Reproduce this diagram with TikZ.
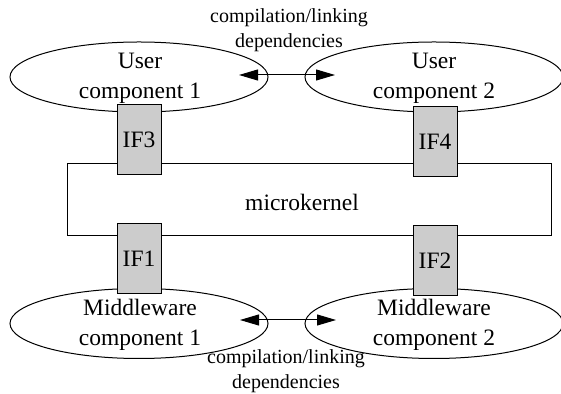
\documentclass[tikz,border=0pt]{standalone}
\usepackage{fontspec}
\setmainfont{Liberation Serif}
\usetikzlibrary{shapes.geometric,arrows.meta}

\tikzset{
  comp/.style={ellipse,draw,line width=0.5pt,minimum width=129pt,minimum height=35pt,inner sep=0pt},
  comptext/.style={align=center,font=\fontsize{11.75}{15}\selectfont,inner sep=0pt},
  iface/.style={rectangle,draw,line width=0.5pt,fill=black!20,minimum width=22pt,minimum height=35pt,inner sep=0pt,font=\fontsize{11.75}{14}\selectfont},
  kernel/.style={rectangle,draw,line width=0.5pt,minimum width=242pt,minimum height=36pt,inner sep=0pt},
  dep/.style={line width=0.5pt,{Triangle[length=9.5pt,width=5.5pt]}-{Triangle[length=9.5pt,width=5.5pt]}},
  note/.style={align=center,font=\fontsize{10}{12.5}\selectfont,inner sep=0pt}
}

\begin{document}
\begin{tikzpicture}[x=0.5pt,y=-0.5pt]
	\useasboundingbox (0,0) rectangle (561,394);

	% kernel
	\node[kernel] (mk) at (309,200) {};
	\node[comptext] (mktxt) at (302,202) {microkernel};

	% user components
	\node[comp] (u1) at (139,77) {};
	\node[comp] (u2) at (434,77) {};
	\node[comptext] (u1txt) at (140,78) {User\\component 1};
	\node[comptext] (u2txt) at (434,78) {User\\component 2};

	% middleware components
	\node[comp] (m1) at (139,323.5) {};
	\node[comp] (m2) at (434,323.5) {};
	\node[comptext] (m1txt) at (140,325) {Middleware\\component 1};
	\node[comptext] (m2txt) at (434,325) {Middleware\\component 2};

	% interfaces
	\node[iface] (if3) at (139,140) {IF3};
	\node[iface] (if4) at (435,142) {IF4};
	\node[iface] (if1) at (139,259) {IF1};
	\node[iface] (if2) at (435,261) {IF2};

	% dependencies
	\coordinate (ua) at (239,75);
	\coordinate (ub) at (335,75);
	\coordinate (ma) at (240,320);
	\coordinate (mb) at (336,320);
	\draw[dep] (ua) -- (ub);
	\draw[dep] (ma) -- (mb);
	\node[note] (utxt) at (289,30.5) {compilation/linking\\dependencies};
	\node[note] (mtxt) at (286,371.5) {compilation/linking\\dependencies};

\end{tikzpicture}
\end{document}
